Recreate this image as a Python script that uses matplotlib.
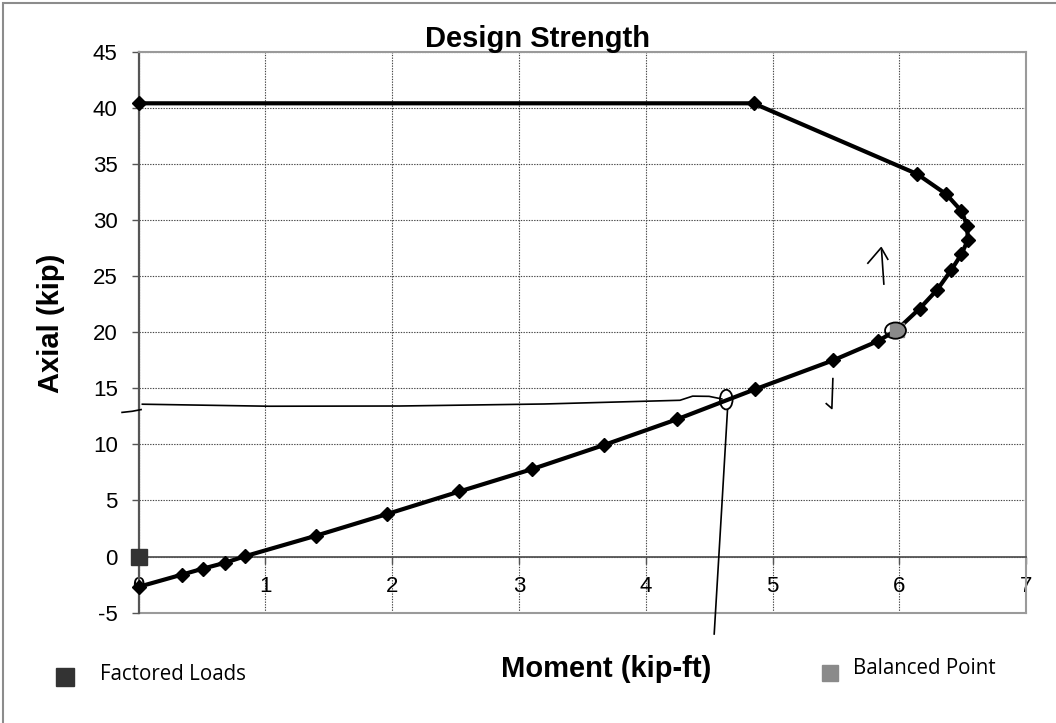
import matplotlib
matplotlib.use("Agg")
import matplotlib.pyplot as plt
from matplotlib.lines import Line2D
from matplotlib.patches import Rectangle, Ellipse

plt.rcParams['font.family'] = ['Liberation Sans', 'DejaVu Sans']
plt.rcParams['axes.unicode_minus'] = False

# interaction curve (moment kip-ft, axial kip)
moment = [0.0, 4.85, 6.14, 6.37, 6.49, 6.535, 6.54, 6.49, 6.41, 6.30, 6.16,
          5.98, 5.83, 5.48, 4.86, 4.25, 3.67, 3.10, 2.53, 1.96, 1.40, 0.84,
          0.68, 0.51, 0.345, 0.0]
axial = [40.4, 40.4, 34.1, 32.3, 30.8, 29.5, 28.2, 26.95, 25.55, 23.8, 22.1,
         20.2, 19.2, 17.5, 14.9, 12.25, 9.94, 7.78, 5.8, 3.79, 1.86, 0.03,
         -0.56, -1.07, -1.6, -2.7]

factored_m = [0.0]
factored_p = [0.0]
balanced_m = [5.98]
balanced_p = [20.2]

xticks = [0, 1, 2, 3, 4, 5, 6, 7]
yticks = [-5, 0, 5, 10, 15, 20, 25, 30, 35, 40, 45]

# hand-drawn pen marks on the scanned chart
pen_hook_x = [-0.13, -0.05, 0.02]
pen_hook_y = [12.85, 12.95, 13.1]
pen_horiz_x = [0.03, 1.03, 2.06, 3.2, 4.27, 4.37, 4.50, 4.60]
pen_horiz_y = [13.58, 13.40, 13.42, 13.6, 13.93, 14.3, 14.28, 14.05]
pen_vert_x = [4.645, 4.60, 4.54]
pen_vert_y = [13.1, 4.46, -6.9]
pen_circle = (4.635, 13.99, 0.10, 1.75)
pen_bal_circle = (5.97, 20.14, 0.165, 1.45)
pen_up_x = [5.752, 5.857, 5.909]
pen_up_y = [26.15, 27.53, 26.5]
pen_up_stem_x = [5.86, 5.878]
pen_up_stem_y = [27.3, 24.29]
pen_down_x = [5.476, 5.468, 5.424]
pen_down_y = [15.86, 13.2, 13.63]

fig = plt.figure(figsize=(10.56, 7.23), dpi=100)
ax = fig.add_axes([0.1312, 0.1526, 0.8405, 0.7759])

ax.set_xlim(0, 7)
ax.set_ylim(-5, 45)
ax.set_xticks(xticks)
ax.set_yticks(yticks)
ax.set_axisbelow(True)
ax.grid(True, linestyle=(0, (1.2, 1.2)), color='#444444', linewidth=0.8)

ax.spines['bottom'].set_position(('data', 0))
ax.spines['bottom'].set_color('#555555')
ax.spines['bottom'].set_linewidth(1.3)
ax.spines['left'].set_color('#555555')
ax.spines['left'].set_linewidth(1.6)
for s in ('top', 'right'):
    ax.spines[s].set_color('#9a9a9a')
    ax.spines[s].set_linewidth(1.5)
ax.axhline(-5, color='#9a9a9a', linewidth=1.5, zorder=2.5, clip_on=False)

ax.tick_params(axis='both', direction='out', length=5, width=1, color='#555555',
               labelsize=16)
ax.tick_params(axis='y', pad=10)
ax.tick_params(axis='x', pad=9)

ax.plot(moment, axial, color='black', linewidth=3.0, marker='D',
        markersize=7.3, zorder=4, clip_on=False)
ax.plot(balanced_m, balanced_p, linestyle='none', marker='s', markersize=10.5,
        color='#8a8a8a', zorder=5, clip_on=False)
ax.plot(factored_m, factored_p, linestyle='none', marker='s', markersize=11.5,
        color='#333333', zorder=5, clip_on=False)

# pen marks
pen = dict(color='black', linewidth=1.2, zorder=6, clip_on=False)
ax.plot(pen_hook_x, pen_hook_y, **pen)
ax.plot(pen_horiz_x, pen_horiz_y, **pen)
ax.plot(pen_vert_x, pen_vert_y, **pen)
ax.plot(pen_up_x, pen_up_y, **pen)
ax.plot(pen_up_stem_x, pen_up_stem_y, **pen)
ax.plot(pen_down_x, pen_down_y, **pen)
for cx, cy, w, h in (pen_circle, pen_bal_circle):
    ax.add_patch(Ellipse((cx, cy), w, h, fill=False, edgecolor='black',
                         linewidth=1.3, zorder=6, clip_on=False))

fig.text(0.509, 0.9354, 'Design Strength', ha='center', va='baseline',
         fontsize=21, fontweight='bold')
fig.text(0.0483, 0.5533, 'Axial (kip)', ha='center', va='center', rotation=90,
         fontsize=21, fontweight='bold')
fig.text(0.5743, 0.064, 'Moment (kip-ft)', ha='center', va='baseline',
         fontsize=21, fontweight='bold')

# legend entries
fig.add_artist(Line2D([64.5 / 1056], [1 - 676.5 / 723], marker='s',
                      markersize=12.5, color='#333333', linestyle='none',
                      transform=fig.transFigure))
fig.text(100 / 1056, 1 - 680 / 723, 'Factored Loads', ha='left',
         va='baseline', fontsize=14.8, family=['Open Sans', 'DejaVu Sans'])
fig.add_artist(Line2D([829.5 / 1056], [1 - 673 / 723], marker='s',
                      markersize=12, color='#8a8a8a', linestyle='none',
                      transform=fig.transFigure))
fig.text(853 / 1056, 1 - 674.3 / 723, 'Balanced Point', ha='left',
         va='baseline', fontsize=14.8, family=['Open Sans', 'DejaVu Sans'])

# outer chart border
fig.add_artist(Rectangle((3 / 1056, -0.05), 1.2, 1.05 - 3 / 723,
                         transform=fig.transFigure, fill=False,
                         edgecolor='#8c8c8c', linewidth=1.5))

fig.savefig('out.png', dpi=100)
